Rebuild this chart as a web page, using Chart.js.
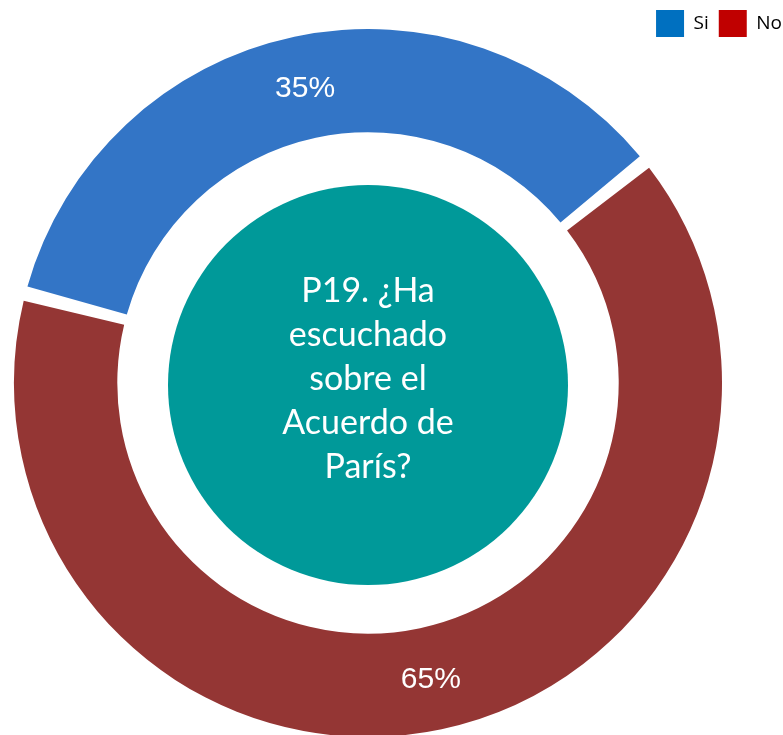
<!DOCTYPE html>
<html>
<head>
<meta charset="utf-8">
<script src="https://cdn.jsdelivr.net/npm/chart.js@4.4.1/dist/chart.umd.min.js"></script>
<style>
  html, body { margin: 0; padding: 0; background: #fff; }
  #box { width: 783px; height: 735px; }
</style>
</head>
<body>
<div id="box"><canvas id="pieChart"></canvas></div>
<script>
const categories = ["Si", "No"];
const values = [35, 65];
const ringColors = ["#3375C6", "#943634"];
const legendColors = ["#0070C0", "#C00000"];
const centerLines = ["P19. ¿Ha", "escuchado", "sobre el", "Acuerdo de", "París?"];

const ctx = document.getElementById("pieChart");

// put the ring where the original sits (legend keeps the top strip)
const placeRing = {
  id: "placeRing",
  afterLayout(chart) {
    const a = chart.chartArea;
    a.left = 15;
    a.right = 721;
    a.top = 29;
    a.bottom = 737;
    a.width = a.right - a.left;
    a.height = a.bottom - a.top;
    // legend runs up to the right edge in the original
    chart.legend.left += 9;
    chart.legend.right += 9;
  },
};

const centerDisc = {
  id: "centerDisc",
  beforeDatasetsDraw(chart) {
    const arc = chart.getDatasetMeta(0).data[0];
    if (!arc) return;
    const c = chart.ctx;
    c.save();
    c.fillStyle = "#009999";
    c.beginPath();
    c.arc(arc.x, arc.y + 2, 200, 0, Math.PI * 2);
    c.fill();
    c.fillStyle = "#ffffff";
    c.font = "34px Lato";
    c.textAlign = "center";
    c.textBaseline = "middle";
    const lh = 44;
    const y0 = arc.y - 4 - ((centerLines.length - 1) * lh) / 2;
    centerLines.forEach((line, i) => c.fillText(line, arc.x, y0 + i * lh));
    c.restore();
  },
  afterDatasetsDraw(chart) {
    const c = chart.ctx;
    c.save();
    c.fillStyle = "#ffffff";
    c.font = "30px 'Liberation Sans'";
    c.textAlign = "center";
    c.textBaseline = "middle";
    chart.getDatasetMeta(0).data.forEach((el, i) => {
      const p = el.tooltipPosition();
      c.fillText(values[i] + "%", p.x, p.y + 1);
    });
    c.restore();
  },
};

new Chart(ctx, {
  type: "doughnut",
  data: {
    labels: categories,
    datasets: [
      {
        data: values,
        backgroundColor: ringColors,
        borderWidth: 0,
        spacing: 8,
        clip: false,
      },
    ],
  },
  options: {
    responsive: true,
    maintainAspectRatio: false,
    animation: false,
    rotation: -75,
    radius: 350,
    cutout: 246,
    plugins: {
      legend: {
        position: "top",
        align: "end",
        labels: {
          boxWidth: 28,
          boxHeight: 27,
          useBorderRadius: true,
          borderRadius: 3,
          padding: 10,
          color: "#000000",
          font: { family: "Open Sans", size: 19 },
          generateLabels: (chart) =>
            categories.map((name, i) => ({
              text: name,
              fillStyle: legendColors[i],
              strokeStyle: legendColors[i],
              lineWidth: 0,
              hidden: false,
              index: i,
            })),
        },
      },
      tooltip: { enabled: false },
    },
  },
  plugins: [placeRing, centerDisc],
});
</script>
</body>
</html>
